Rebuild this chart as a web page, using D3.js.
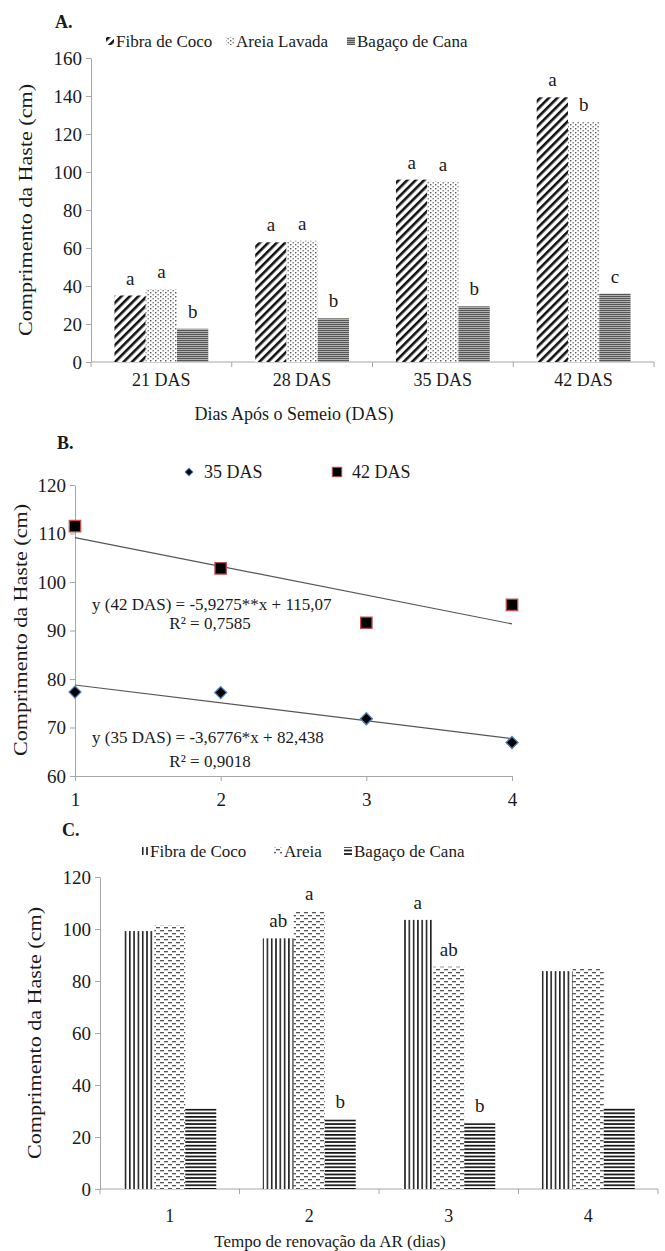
<!DOCTYPE html>
<meta charset="utf-8">
<style>
body { margin: 0; background: #fff; }
svg text { font-family: "Liberation Serif", "Times New Roman", serif; fill: #1a1a1a; }
.axis path, .axis line { stroke: #a6a6a6; }
</style>
<body>
<script src="https://d3js.org/d3.v7.min.js"></script>
<script>
// ---- panel A data
var diasA = ["21 DAS", "28 DAS", "35 DAS", "42 DAS"];
var fibraA = [35, 63, 96, 139.3];
var areiaA = [38.4, 63.8, 95, 126.3];
var bagacoA = [17.5, 23, 29.3, 36];
var letrasFibraA = ["a", "a", "a", "a"];
var letrasAreiaA = ["a", "a", "a", "b"];
var letrasBagacoA = ["b", "b", "b", "c"];
var ticksA = [0, 20, 40, 60, 80, 100, 120, 140, 160];

// ---- panel B data
var tempoB = [1, 2, 3, 4];
var das35 = [77.3, 77.2, 71.8, 66.9];
var das42 = [111.5, 102.8, 91.6, 95.3];
var ajuste35 = [-3.6776, 82.438];   // slope, intercept
var ajuste42 = [-5.9275, 115.07];
var ticksB = [60, 70, 80, 90, 100, 110, 120];

// ---- panel C data
var tempoC = ["1", "2", "3", "4"];
var fibraC = [99.2, 96.4, 103.5, 83.8];
var areiaC = [101.5, 106.9, 85.5, 84.9];
var bagacoC = [31, 26.8, 25.3, 31.2];
var letrasFibraC = ["", "ab", "a", ""];
var letrasAreiaC = ["", "a", "ab", ""];
var letrasBagacoC = ["", "b", "b", ""];
var ticksC = [0, 20, 40, 60, 80, 100, 120];

var FONT = '"Liberation Serif", "Times New Roman", serif';

var svg = d3.select("body").append("svg")
    .attr("width", 665)
    .attr("height", 1251)
    .style("font-family", FONT);

// patterns
var defs = svg.append("defs");
function pattern(id, w, h, draw, rot) {
  var p = defs.append("pattern").attr("id", id)
    .attr("patternUnits", "userSpaceOnUse")
    .attr("width", w).attr("height", h);
  if (rot) p.attr("patternTransform", "rotate(" + rot + ")");
  p.append("rect").attr("width", w).attr("height", h).attr("fill", "#fff");
  draw(p);
}
// A: fibra = diagonal, areia = dotted, bagaco = fine horizontal
pattern("diagA", 6, 6, function(p) {
  p.append("rect").attr("x", 0).attr("width", 2.6).attr("height", 6).attr("fill", "#111");
}, 45);
pattern("dotA", 5, 4, function(p) {
  p.append("rect").attr("x", 0).attr("y", 0).attr("width", 1.4).attr("height", 1.4).attr("fill", "#555");
  p.append("rect").attr("x", 2.5).attr("y", 2).attr("width", 1.4).attr("height", 1.4).attr("fill", "#777");
});
pattern("horA", 3, 2, function(p) {
  p.append("rect").attr("width", 3).attr("height", 2).attr("fill", "#b0b0b0");
  p.append("rect").attr("width", 3).attr("height", 1).attr("fill", "#555");
});
// C: fibra = vertical, areia = dashed, bagaco = horizontal
pattern("verC", 4.3, 4, function(p) {
  p.append("rect").attr("width", 1.6).attr("height", 4).attr("fill", "#222");
});
pattern("dashC", 8, 6, function(p) {
  p.append("rect").attr("x", 0).attr("y", 0).attr("width", 4).attr("height", 1.3).attr("fill", "#555");
  p.append("rect").attr("x", 4).attr("y", 3).attr("width", 4).attr("height", 1.3).attr("fill", "#555");
});
pattern("horC", 4, 3.6, function(p) {
  p.append("rect").attr("width", 4).attr("height", 1.7).attr("fill", "#111");
});

function panelLabel(txt, x, y) {
  svg.append("text").attr("x", x).attr("y", y)
    .attr("font-size", 18).attr("font-weight", "bold").text(txt);
}

function yTitle(cx, cy) {
  svg.append("text")
    .attr("transform", "translate(" + cx + "," + cy + ") rotate(-90)")
    .attr("text-anchor", "middle").attr("dy", "0.35em")
    .attr("font-size", 19)
    .attr("textLength", 252).attr("lengthAdjust", "spacingAndGlyphs")
    .text("Comprimento da Haste (cm)");
}

// grouped bar panel (A and C)
function barPanel(o) {
  var x0 = d3.scaleBand().domain(o.cats).range([o.left, o.right])
    .paddingInner(1 / 3).paddingOuter(1 / 6);
  var x1 = d3.scaleBand().domain([0, 1, 2]).range([0, x0.bandwidth()]);
  var y = d3.scaleLinear().domain([0, d3.max(o.ticks)]).range([o.bottom, o.top]);

  svg.append("g").attr("class", "axis")
    .attr("transform", "translate(" + o.left + ",0)")
    .call(d3.axisLeft(y).tickValues(o.ticks).tickSize(5).tickPadding(4).tickSizeOuter(0))
    .attr("font-family", FONT).attr("font-size", 19);

  // x axis line and category boundary ticks
  var xa = svg.append("g").attr("class", "axis");
  xa.append("line").attr("x1", o.left).attr("x2", o.right)
    .attr("y1", y(0)).attr("y2", y(0));
  xa.selectAll(".bt").data(d3.range(o.cats.length + 1)).enter().append("line")
    .attr("x1", function(i) { return o.left + i * x0.step(); })
    .attr("x2", function(i) { return o.left + i * x0.step(); })
    .attr("y1", y(0)).attr("y2", y(0) + 5);
  svg.selectAll(null).data(o.cats).enter().append("text")
    .attr("x", function(d) { return x0(d) + x0.bandwidth() / 2; })
    .attr("y", y(0) + o.catDy)
    .attr("text-anchor", "middle").attr("font-size", 18)
    .text(function(d) { return d; });

  o.series.forEach(function(s, si) {
    svg.selectAll(null).data(s.values).enter().append("rect")
      .attr("x", function(d, i) { return x0(o.cats[i]) + x1(si); })
      .attr("width", x1.bandwidth())
      .attr("y", function(d) { return y(d); })
      .attr("height", function(d) { return y(0) - y(d); })
      .attr("fill", "url(#" + s.pat + ")");
    svg.selectAll(null).data(s.letters).enter().append("text")
      .attr("x", function(d, i) { return x0(o.cats[i]) + x1(si) + x1.bandwidth() / 2; })
      .attr("y", function(d, i) { return y(s.values[i]) - 11; })
      .attr("text-anchor", "middle").attr("font-size", 19)
      .text(function(d) { return d; });
  });

  // legend
  o.series.forEach(function(s, si) {
    var lx = o.legendX[si];
    svg.append("rect").attr("x", lx).attr("y", o.legendY - 5)
      .attr("width", 8).attr("height", 8).attr("fill", "url(#" + s.pat + ")");
    svg.append("text").attr("x", lx + 10).attr("y", o.legendY + 5)
      .attr("font-size", 17).text(s.name);
  });
}

// ---------- A
panelLabel("A.", 55, 28);
barPanel({
  cats: diasA, ticks: ticksA, left: 91, right: 654, top: 58, bottom: 362, catDy: 24,
  legendY: 42, legendX: [106, 226, 347],
  series: [
    { name: "Fibra de Coco", values: fibraA, letters: letrasFibraA, pat: "diagA" },
    { name: "Areia Lavada", values: areiaA, letters: letrasAreiaA, pat: "dotA" },
    { name: "Bagaço de Cana", values: bagacoA, letters: letrasBagacoA, pat: "horA" }
  ]
});
yTitle(25, 210);
svg.append("text").attr("x", 294).attr("y", 420).attr("text-anchor", "middle")
  .attr("font-size", 18).text("Dias Após o Semeio (DAS)");

// ---------- B
panelLabel("B.", 57, 449);
var xB = d3.scaleLinear().domain([1, 4]).range([75, 512]);
var yB = d3.scaleLinear().domain([60, 120]).range([776, 485]);

svg.append("g").attr("class", "axis")
  .attr("transform", "translate(" + xB(1) + ",0)")
  .call(d3.axisLeft(yB).tickValues(ticksB).tickSize(5).tickPadding(4).tickSizeOuter(0))
  .attr("font-family", FONT).attr("font-size", 19);
svg.append("g").attr("class", "axis")
  .attr("transform", "translate(0," + yB(60) + ")")
  .call(d3.axisBottom(xB).tickValues(tempoB).tickFormat(d3.format("d"))
    .tickSize(5).tickPadding(12).tickSizeOuter(0))
  .attr("font-family", FONT).attr("font-size", 19);

var trend = [
  { a: ajuste42 },
  { a: ajuste35 }
];
svg.selectAll(null).data(trend).enter().append("line")
  .attr("x1", xB(1)).attr("x2", xB(4))
  .attr("y1", function(d) { return yB(d.a[0] * 1 + d.a[1]); })
  .attr("y2", function(d) { return yB(d.a[0] * 4 + d.a[1]); })
  .attr("stroke", "#555").attr("stroke-width", 1.2);

var sq = d3.symbol().type(d3.symbolSquare).size(130);
svg.selectAll(null).data(das42).enter().append("path")
  .attr("d", sq)
  .attr("transform", function(d, i) { return "translate(" + xB(tempoB[i]) + "," + yB(d) + ")"; })
  .attr("fill", "#000").attr("stroke", "#c0504d").attr("stroke-width", 1.3);
var dm = d3.symbol().type(d3.symbolSquare).size(72);
svg.selectAll(null).data(das35).enter().append("path")
  .attr("d", dm)
  .attr("transform", function(d, i) { return "translate(" + xB(tempoB[i]) + "," + yB(d) + ") rotate(45)"; })
  .attr("fill", "#000").attr("stroke", "#4f81bd").attr("stroke-width", 1.3);

// legend B
svg.append("path").attr("d", d3.symbol().type(d3.symbolSquare).size(30))
  .attr("transform", "translate(189,472) rotate(45)").attr("fill", "#000").attr("stroke", "#4f81bd");
svg.append("text").attr("x", 204).attr("y", 478).attr("font-size", 18).text("35 DAS");
svg.append("path").attr("d", d3.symbol().type(d3.symbolSquare).size(90))
  .attr("transform", "translate(337,472)").attr("fill", "#000").attr("stroke", "#c0504d");
svg.append("text").attr("x", 352).attr("y", 478).attr("font-size", 18).text("42 DAS");

// equations
svg.append("text").attr("x", 92).attr("y", 610).attr("font-size", 17)
  .text("y (42 DAS) = -5,9275**x + 115,07");
svg.append("text").attr("x", 210).attr("y", 629).attr("text-anchor", "middle").attr("font-size", 17)
  .text("R² = 0,7585");
svg.append("text").attr("x", 92).attr("y", 743).attr("font-size", 17)
  .text("y (35 DAS) = -3,6776*x + 82,438");
svg.append("text").attr("x", 210).attr("y", 767).attr("text-anchor", "middle").attr("font-size", 17)
  .text("R² = 0,9018");
yTitle(20, 630);

// ---------- C
panelLabel("C.", 62, 836);
barPanel({
  cats: tempoC, ticks: ticksC, left: 100, right: 658, top: 877, bottom: 1189, catDy: 33,
  legendY: 852, legendX: [140, 274, 344],
  series: [
    { name: "Fibra de Coco", values: fibraC, letters: letrasFibraC, pat: "verC" },
    { name: "Areia", values: areiaC, letters: letrasAreiaC, pat: "dashC" },
    { name: "Bagaço de Cana", values: bagacoC, letters: letrasBagacoC, pat: "horC" }
  ]
});
yTitle(34, 1033);
svg.append("text").attr("x", 330).attr("y", 1247).attr("text-anchor", "middle")
  .attr("font-size", 17).text("Tempo de renovação da AR (dias)");
</script>
</body>
